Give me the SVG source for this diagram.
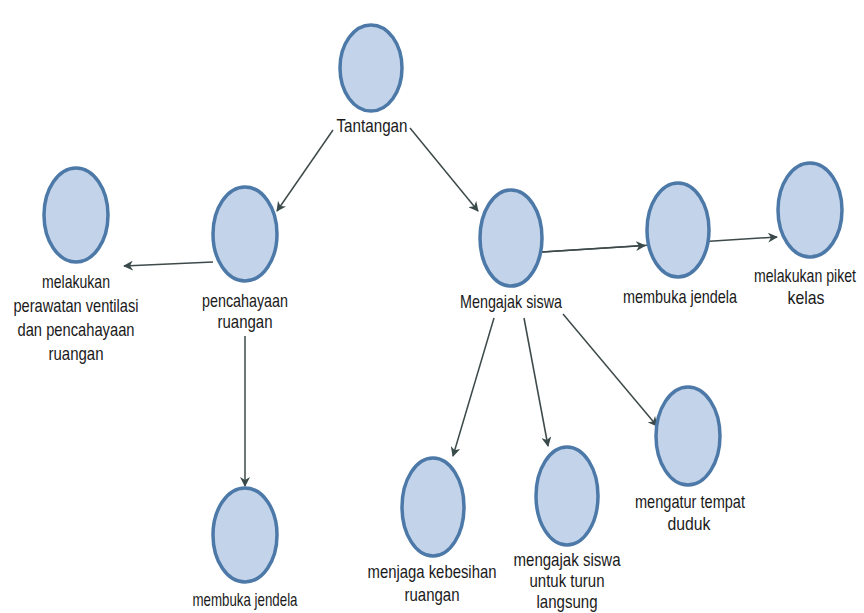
<svg xmlns="http://www.w3.org/2000/svg" width="864" height="613" viewBox="0 0 864 613">
<defs>
<marker id="ah" viewBox="0 0 10 10" refX="9" refY="5" markerWidth="10" markerHeight="10" orient="auto" markerUnits="userSpaceOnUse"><path d="M0,0 L10,5 L0,10 L3,5 z" fill="#3a4a4a"/></marker>
<style>
.n{fill:#c3d3ea;stroke:#4c79a8;stroke-width:3.5}
.t{font-family:"Liberation Sans",Arial,sans-serif;font-size:19px;fill:#1a1a1a;text-anchor:middle}
.c{stroke:#3e4a4a;stroke-width:1.5;fill:none;marker-end:url(#ah)}
</style>
</defs>
<rect width="864" height="613" fill="#fff"/>
<g id="connectors">
<line class="c" x1="333" y1="130" x2="277" y2="211"/>
<line class="c" x1="410" y1="128" x2="478" y2="211"/>
<line class="c" x1="213" y1="262" x2="124" y2="266"/>
<line class="c" x1="245" y1="336" x2="245" y2="486"/>
<line class="c" x1="542" y1="252" x2="645" y2="245.5"/>
<line class="c" x1="542" y1="252" x2="777" y2="237"/>
<line class="c" x1="494" y1="318" x2="453" y2="456"/>
<line class="c" x1="524" y1="318" x2="548" y2="446"/>
<line class="c" x1="563" y1="314" x2="657" y2="426"/>
</g>
<g id="tantangan"><ellipse class="n" cx="371" cy="68" rx="31" ry="43"/><text class="t" x="372" y="132" textLength="71" lengthAdjust="spacingAndGlyphs">Tantangan</text></g>
<g id="pencahayaan"><ellipse class="n" cx="245" cy="234" rx="32" ry="47"/><text class="t" x="245" y="307" textLength="86" lengthAdjust="spacingAndGlyphs">pencahayaan</text><text class="t" x="245" y="328" textLength="55" lengthAdjust="spacingAndGlyphs">ruangan</text></g>
<g id="perawatan"><ellipse class="n" cx="76" cy="215" rx="32" ry="47"/><text class="t" x="76" y="288" textLength="68" lengthAdjust="spacingAndGlyphs">melakukan</text><text class="t" x="76" y="312" textLength="125" lengthAdjust="spacingAndGlyphs">perawatan ventilasi</text><text class="t" x="76" y="336" textLength="117" lengthAdjust="spacingAndGlyphs">dan pencahayaan</text><text class="t" x="76" y="360" textLength="55" lengthAdjust="spacingAndGlyphs">ruangan</text></g>
<g id="membuka1"><ellipse class="n" cx="245" cy="535" rx="32" ry="47"/><text class="t" x="245" y="606" textLength="105" lengthAdjust="spacingAndGlyphs">membuka jendela</text></g>
<g id="mengajak"><ellipse class="n" cx="511" cy="238" rx="31" ry="48"/><text class="t" x="511" y="308" textLength="102" lengthAdjust="spacingAndGlyphs">Mengajak siswa</text></g>
<g id="membuka2"><ellipse class="n" cx="678" cy="230" rx="31" ry="47"/><text class="t" x="680" y="303" textLength="114" lengthAdjust="spacingAndGlyphs">membuka jendela</text></g>
<g id="piket"><ellipse class="n" cx="810" cy="210" rx="32" ry="47"/><text class="t" x="805" y="282" textLength="102" lengthAdjust="spacingAndGlyphs">melakukan piket</text><text class="t" x="806" y="304" textLength="37" lengthAdjust="spacingAndGlyphs">kelas</text></g>
<g id="kebersihan"><ellipse class="n" cx="433" cy="507" rx="31" ry="49"/><text class="t" x="432" y="578" textLength="129" lengthAdjust="spacingAndGlyphs">menjaga kebesihan</text><text class="t" x="432" y="601" textLength="55" lengthAdjust="spacingAndGlyphs">ruangan</text></g>
<g id="turun"><ellipse class="n" cx="567" cy="496" rx="31" ry="49"/><text class="t" x="567" y="566" textLength="107" lengthAdjust="spacingAndGlyphs">mengajak siswa</text><text class="t" x="567" y="587" textLength="75" lengthAdjust="spacingAndGlyphs">untuk turun</text><text class="t" x="567" y="608" textLength="61" lengthAdjust="spacingAndGlyphs">langsung</text></g>
<g id="tempat"><ellipse class="n" cx="688" cy="436" rx="32" ry="49"/><text class="t" x="690" y="508" textLength="110" lengthAdjust="spacingAndGlyphs">mengatur tempat</text><text class="t" x="689" y="530" textLength="43" lengthAdjust="spacingAndGlyphs">duduk</text></g>
</svg>
